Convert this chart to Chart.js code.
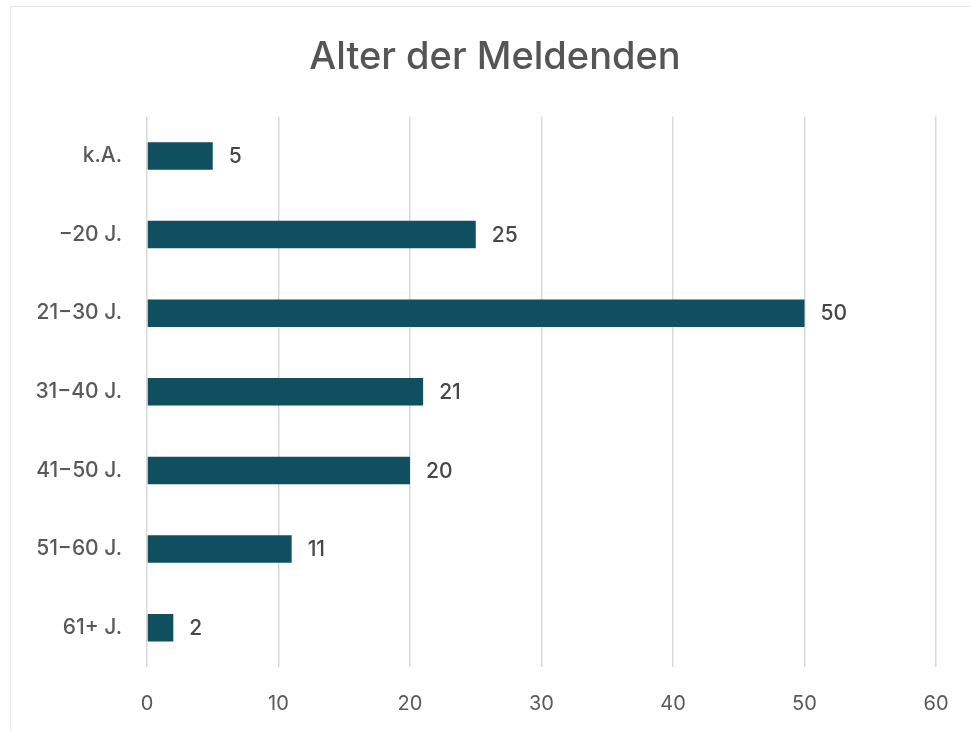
<!DOCTYPE html>
<html>
<head>
<meta charset="utf-8">
<script src="https://cdn.jsdelivr.net/npm/chart.js@4"></script>
<style>
  html, body { margin: 0; padding: 0; background: #fff; overflow: hidden; }
  #wrap {
    position: absolute; left: 10px; top: 6px;
    width: 968px; height: 740px;
    border: 1px solid #e6e6e6; background: #fff;
  }
</style>
</head>
<body>
<div id="wrap"><canvas id="ageChart"></canvas></div>
<script>
// Data
const categories = ["k.A.", "\u221220 J.", "21\u221230 J.", "31\u221240 J.", "41\u221250 J.", "51\u221260 J.", "61+ J."];
const counts = [5, 25, 50, 21, 20, 11, 2];
const xTicks = [0, 10, 20, 30, 40, 50, 60];

const barColor = "#0f4f5f";
const textColor = "#595959";
const fontFamily = "Inter, 'Open Sans', sans-serif";

// Simple value labels next to each bar
const valueLabels = {
  id: "valueLabels",
  afterDatasetsDraw(chart) {
    const ctx = chart.ctx;
    const meta = chart.getDatasetMeta(0);
    ctx.save();
    ctx.font = "500 21px " + fontFamily;
    ctx.fillStyle = "#474747";
    ctx.textAlign = "left";
    ctx.textBaseline = "middle";
    meta.data.forEach((bar, i) => {
      ctx.fillText(String(counts[i]), bar.x + 16, bar.y + 1);
    });
    ctx.restore();
  }
};

const ctx = document.getElementById("ageChart").getContext("2d");
new Chart(ctx, {
  type: "bar",
  data: {
    labels: categories,
    datasets: [{
      label: "Anzahl",
      data: counts,
      backgroundColor: barColor,
      borderWidth: 0,
      barPercentage: 0.7,
      categoryPercentage: 0.5
    }]
  },
  options: {
    indexAxis: "y",
    responsive: true,
    maintainAspectRatio: false,
    animation: false,
    layout: { padding: 0 },
    plugins: {
      legend: { display: false },
      tooltip: { enabled: false },
      title: {
        display: true,
        text: "Alter der Meldenden",
        color: "#555555",
        font: { family: fontFamily, size: 38, weight: "500" },
        padding: { top: 28, bottom: 36 }
      }
    },
    scales: {
      x: {
        min: 0,
        max: 60,
        afterBuildTicks(scale) {
          scale.ticks = xTicks.map(v => ({ value: v }));
        },
        afterFit(scale) { scale.height = 80; },
        grid: { color: "#d9d9d9", lineWidth: 1.5, drawTicks: false },
        border: { display: false },
        ticks: {
          color: textColor,
          padding: 25,
          font: { family: fontFamily, size: 20, weight: "400" }
        }
      },
      y: {
        afterFit(scale) { scale.width = 136; },
        grid: { display: false, drawTicks: false },
        border: { display: false },
        ticks: {
          color: textColor,
          padding: 25,
          font: { family: fontFamily, size: 21, weight: "500" }
        }
      },
      // empty right-hand axis, only reserves space so the title stays centred on the card
      yRight: {
        type: "linear",
        position: "right",
        afterFit(scale) { scale.width = 43; },
        grid: { display: false, drawTicks: false },
        border: { display: false },
        ticks: { display: false }
      }
    }
  },
  plugins: [valueLabels]
});
</script>
</body>
</html>
